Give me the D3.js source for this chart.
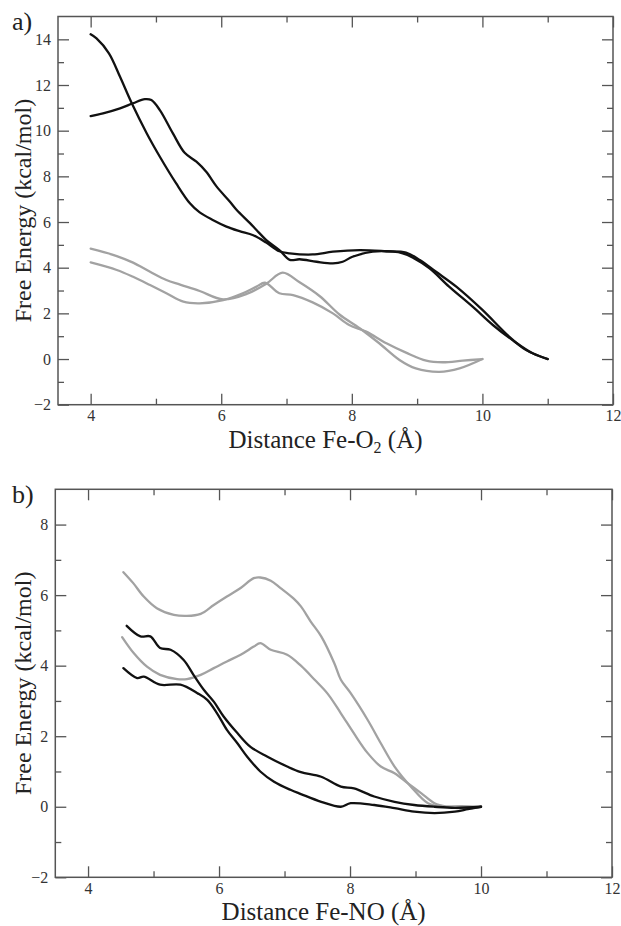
<!DOCTYPE html>
<html>
<head>
<meta charset="utf-8">
<script src="https://d3js.org/d3.v7.min.js"></script>
<style>
  body { margin: 0; background: #fff; }
  svg { display: block; }
  svg text { font-family: 'Liberation Serif', 'Times New Roman', 'DejaVu Serif', serif; }
</style>
</head>
<body>
<svg id="fig"></svg>
<script>
// panel a) Fe-O2, [distance, free energy]
const o2Black1 = [[4.00,14.22],[4.09,14.04],[4.28,13.39],[4.45,12.36],[4.63,11.20],[4.86,9.88],[5.06,8.86],[5.31,7.69],[5.52,6.82],[5.67,6.42],[5.87,6.09],[6.08,5.80],[6.28,5.60],[6.49,5.42],[6.69,5.10],[6.89,4.72],[7.05,4.63],[7.40,4.58],[7.71,4.70],[8.12,4.77],[8.53,4.72],[8.83,4.66],[9.04,4.34],[9.29,3.82],[9.60,3.17],[10.00,2.15],[10.41,0.98],[10.67,0.39],[11.00,0.00]];
const o2Black2 = [[4.00,10.64],[4.19,10.76],[4.45,10.98],[4.65,11.20],[4.83,11.38],[4.93,11.34],[5.06,10.90],[5.26,9.88],[5.44,9.03],[5.62,8.64],[5.77,8.20],[5.93,7.55],[6.13,6.90],[6.23,6.55],[6.44,5.95],[6.54,5.65],[6.69,5.21],[6.89,4.77],[7.05,4.34],[7.20,4.37],[7.46,4.26],[7.71,4.19],[7.86,4.26],[8.01,4.48],[8.32,4.70],[8.63,4.70],[8.78,4.63],[8.93,4.45],[9.19,3.97],[9.49,3.17],[9.85,2.29],[10.16,1.49],[10.46,0.83],[10.77,0.25],[11.00,0.00]];
const o2Gray1 = [[4.00,4.83],[4.40,4.51],[4.65,4.22],[4.91,3.82],[5.16,3.46],[5.37,3.26],[5.67,2.98],[6.03,2.61],[6.39,2.85],[6.69,3.30],[6.94,3.78],[7.20,3.36],[7.51,2.75],[7.81,1.95],[8.12,1.35],[8.42,0.69],[8.73,-0.04],[8.98,-0.41],[9.34,-0.56],[9.65,-0.41],[10.00,0.00]];
const o2Gray2 = [[4.00,4.23],[4.40,3.90],[4.65,3.60],[4.91,3.24],[5.16,2.88],[5.42,2.51],[5.67,2.44],[6.03,2.58],[6.33,2.88],[6.54,3.17],[6.67,3.34],[6.89,2.88],[7.10,2.80],[7.40,2.48],[7.71,2.00],[7.96,1.49],[8.22,1.20],[8.53,0.69],[8.83,0.28],[9.14,-0.07],[9.39,-0.14],[9.70,-0.07],[10.00,0.00]];

// panel b) Fe-NO
const noGray1 = [[4.54,6.65],[4.69,6.34],[4.85,5.96],[5.05,5.63],[5.31,5.44],[5.51,5.41],[5.72,5.47],[5.92,5.72],[6.12,5.96],[6.33,6.20],[6.53,6.48],[6.63,6.50],[6.79,6.41],[6.94,6.20],[7.14,5.90],[7.25,5.68],[7.40,5.25],[7.56,4.83],[7.76,4.07],[7.86,3.60],[8.01,3.22],[8.27,2.46],[8.47,1.80],[8.68,1.14],[8.93,0.57],[9.19,0.10],[9.39,0.00],[9.70,0.02],[10.00,0.00]];
const noGray2 = [[4.52,4.81],[4.70,4.35],[4.90,3.97],[5.10,3.74],[5.36,3.62],[5.51,3.62],[5.72,3.74],[5.92,3.93],[6.12,4.12],[6.33,4.31],[6.53,4.54],[6.63,4.64],[6.79,4.45],[7.04,4.31],[7.25,4.00],[7.46,3.60],[7.66,3.20],[7.86,2.65],[8.07,2.05],[8.27,1.52],[8.47,1.14],[8.68,0.95],[8.88,0.67],[9.09,0.38],[9.29,0.10],[9.49,0.00],[9.80,-0.05],[10.00,0.00]];
const noBlack1 = [[4.59,5.13],[4.80,4.83],[4.95,4.83],[5.10,4.50],[5.26,4.45],[5.46,4.16],[5.61,3.74],[5.77,3.31],[5.92,2.98],[6.07,2.56],[6.28,2.09],[6.48,1.70],[6.74,1.42],[7.04,1.14],[7.25,0.98],[7.56,0.85],[7.86,0.57],[8.06,0.52],[8.37,0.29],[8.68,0.14],[8.98,0.05],[9.29,0.00],[9.60,-0.03],[10.00,0.00]];
const noBlack2 = [[4.54,3.93],[4.75,3.65],[4.85,3.69],[5.10,3.46],[5.41,3.46],[5.67,3.22],[5.82,3.03],[5.97,2.65],[6.12,2.18],[6.28,1.80],[6.43,1.42],[6.63,1.00],[6.84,0.71],[7.09,0.48],[7.25,0.36],[7.56,0.14],[7.86,0.00],[8.01,0.10],[8.37,0.05],[8.68,-0.04],[8.98,-0.14],[9.29,-0.18],[9.60,-0.14],[9.80,-0.07],[10.00,0.00]];

const xTicks = [4, 6, 8, 10, 12];
const xMinor = [5, 7, 9, 11];
const o2YTicks = [-2, 0, 2, 4, 6, 8, 10, 12, 14];
const o2YMinor = [-1, 1, 3, 5, 7, 9, 11, 13];
const noYTicks = [-2, 0, 2, 4, 6, 8];
const noYMinor = [-1, 1, 3, 5, 7];

const BLACK = '#111';
const GRAY = '#a2a2a2';
const FRAME = '#555';
const SERIF = "'Liberation Serif', 'Times New Roman', serif";

class EnergyPanel {
    constructor( config, series ) {
        this.config = config;
        this.series = series;
        this.init();
    }

    init() {
        let self = this;
        let c = self.config;
        self.g = c.parent.append('g')
            .attr('transform', `translate(${c.left}, ${c.top})`);
        self.w = c.right - c.left;
        self.h = c.bottom - c.top;

        self.xscale = d3.scaleLinear().domain(c.xdomain).range([0, self.w]);
        self.yscale = d3.scaleLinear().domain(c.ydomain).range([self.h, 0]);
    }

    axis( gen, ticks, size, labels, transform ) {
        let self = this;
        const a = gen.tickValues(ticks).tickSize(size);
        if (!labels) a.tickFormat('');
        const g = self.g.append('g')
            .attr('transform', transform || null)
            .call(a)
            .attr('font-family', SERIF)
            .attr('font-size', 16);
        g.select('.domain').remove();
        g.selectAll('line').attr('stroke', FRAME).attr('stroke-width', 1.3);
        g.selectAll('text').attr('fill', '#333');
        return g;
    }

    render() {
        let self = this;
        let c = self.config;

        // ticks on all four sides, pointing inward
        self.axis(d3.axisBottom(self.xscale).tickPadding(5), xTicks, -11, true, `translate(0, ${self.h})`);
        self.axis(d3.axisBottom(self.xscale), xMinor, -6, false, `translate(0, ${self.h})`);
        self.axis(d3.axisTop(self.xscale), xTicks, -11, false);
        self.axis(d3.axisTop(self.xscale), xMinor, -6, false);
        self.axis(d3.axisLeft(self.yscale).tickPadding(7), c.yticks, -11, true);
        self.axis(d3.axisLeft(self.yscale), c.yminor, -6, false);
        self.axis(d3.axisRight(self.yscale), c.yticks, -11, false, `translate(${self.w}, 0)`);
        self.axis(d3.axisRight(self.yscale), c.yminor, -6, false, `translate(${self.w}, 0)`);

        self.g.append('rect')
            .attr('width', self.w)
            .attr('height', self.h)
            .attr('fill', 'none')
            .attr('stroke', FRAME)
            .attr('stroke-width', 1.5);

        const line = d3.line()
            .x(d => self.xscale(d[0]))
            .y(d => self.yscale(d[1]))
            .curve(d3.curveCatmullRom.alpha(0.5));

        self.g.selectAll('path.curve')
            .data(self.series)
            .join('path')
            .attr('class', 'curve')
            .attr('d', d => line(d.values))
            .attr('fill', 'none')
            .attr('stroke', d => d.color)
            .attr('stroke-width', 2.3)
            .attr('stroke-linejoin', 'round')
            .attr('stroke-linecap', 'round');

        // y title
        self.g.append('text')
            .attr('transform', `translate(${31 - c.left}, ${self.h / 2}) rotate(-90)`)
            .attr('text-anchor', 'middle')
            .attr('font-size', '24px')
            .attr('fill', '#222')
            .text('Free Energy (kcal/mol)');

        // x title
        const xt = self.g.append('text')
            .attr('x', self.w / 2 - 10)
            .attr('y', self.h + 43)
            .attr('text-anchor', 'middle')
            .attr('font-size', '25px')
            .attr('fill', '#222');
        c.xlabel.forEach(p => {
            xt.append('tspan')
                .attr('font-size', p.sub ? '16px' : null)
                .attr('dy', p.sub ? 5 : (p.back ? -5 : null))
                .text(p.t);
        });

        // panel tag
        self.g.append('text')
            .attr('x', 12 - c.left)
            .attr('y', c.tagY - c.top)
            .attr('font-size', '26px')
            .attr('fill', '#222')
            .text(c.tag);
    }
}

const svg = d3.select('#fig')
    .attr('width', 621)
    .attr('height', 926);

const panelA = new EnergyPanel({
    parent: svg, left: 58, right: 613, top: 16.5, bottom: 404.7,
    xdomain: [3.5, 12], ydomain: [-2, 15],
    yticks: o2YTicks, yminor: o2YMinor, tag: 'a)', tagY: 30,
    xlabel: [{t: 'Distance Fe-O'}, {t: '2', sub: true}, {t: ' (Å)', back: true}]
}, [
    {values: o2Gray1, color: GRAY}, {values: o2Gray2, color: GRAY},
    {values: o2Black1, color: BLACK}, {values: o2Black2, color: BLACK}
]);
panelA.render();

const panelB = new EnergyPanel({
    parent: svg, left: 55.3, right: 612, top: 489.3, bottom: 877.3,
    xdomain: [3.5, 12], ydomain: [-2, 9],
    yticks: noYTicks, yminor: noYMinor, tag: 'b)', tagY: 503,
    xlabel: [{t: 'Distance Fe-NO (Å)'}]
}, [
    {values: noGray1, color: GRAY}, {values: noGray2, color: GRAY},
    {values: noBlack1, color: BLACK}, {values: noBlack2, color: BLACK}
]);
panelB.render();
</script>
</body>
</html>
